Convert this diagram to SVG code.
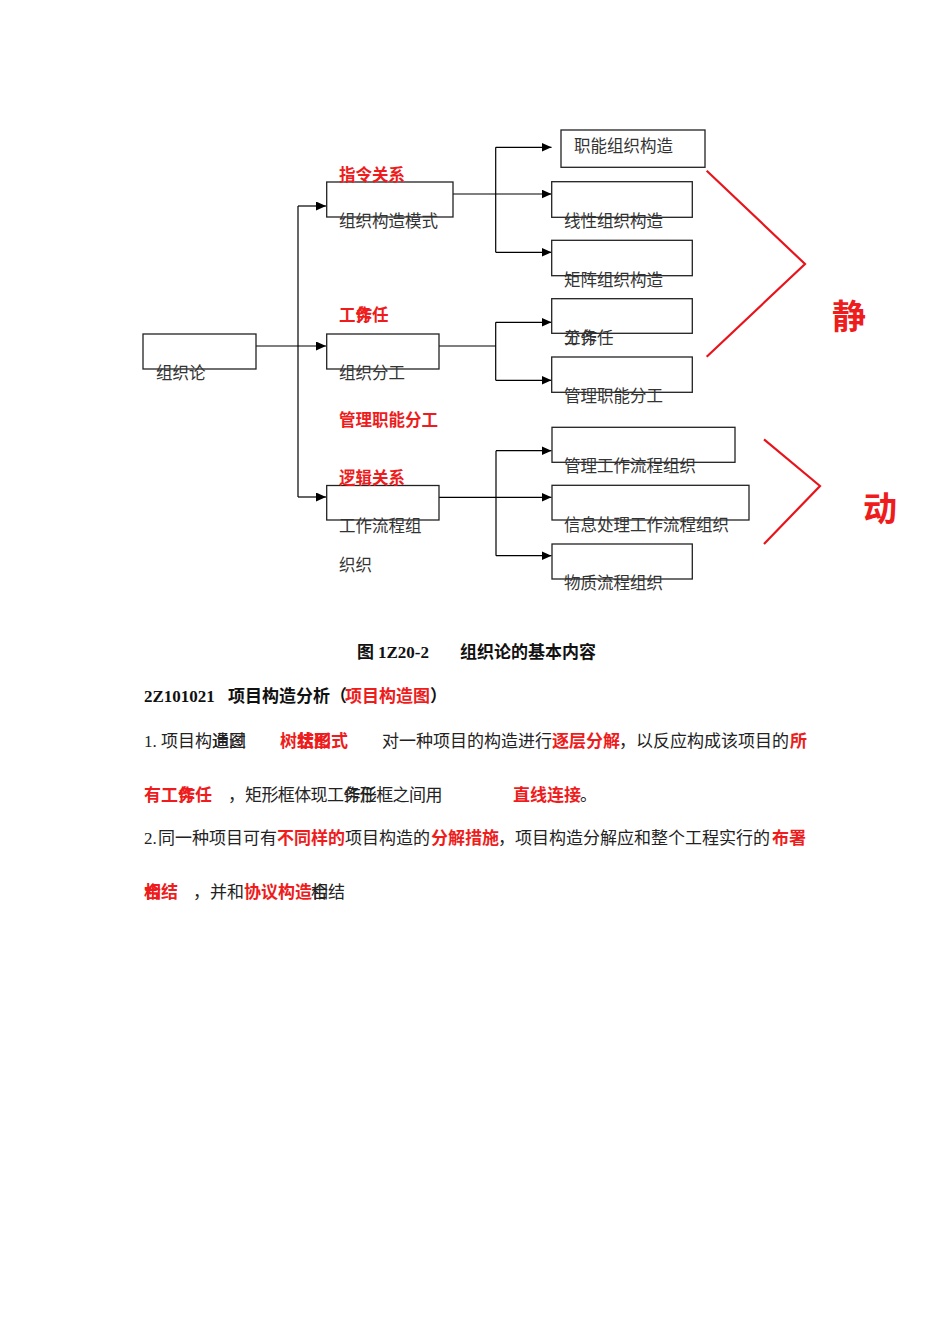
<svg xmlns="http://www.w3.org/2000/svg" width="950" height="1344" viewBox="0 0 950 1344">
<defs>
<marker id="arr" markerUnits="userSpaceOnUse" markerWidth="11" markerHeight="9" refX="10" refY="4.5" orient="auto"><path d="M0,0 L10,4.5 L0,9 z" fill="#000"/></marker>
<style>
.box{fill:#fff;stroke:#222;stroke-width:1.3}
.ln{fill:none;stroke:#000;stroke-width:1.2}
.ar{fill:none;stroke:#000;stroke-width:1.2;marker-end:url(#arr)}
.chev{fill:none;stroke:#e8141b;stroke-width:2.2}
.t{font-family:"Noto Sans CJK SC","Liberation Serif",sans-serif;font-size:16.5px;fill:#333}
.r{font-family:"Noto Sans CJK SC",sans-serif;font-size:16.5px;font-weight:bold;fill:#ee1c1c}
.big{font-family:"Noto Sans CJK SC",sans-serif;font-size:34px;font-weight:bold;fill:#ee1c1c;text-anchor:middle}
.b{font-family:"Noto Sans CJK SC",sans-serif;font-size:17px;fill:#222}
.br{font-family:"Noto Sans CJK SC",sans-serif;font-size:17px;font-weight:bold;fill:#ee1c1c}
.bb{font-family:"Noto Sans CJK SC",sans-serif;font-size:17px;font-weight:bold;fill:#111}
.lat{font-family:"Liberation Serif","Noto Sans CJK SC",serif;font-size:17px;fill:#222}
.latb{font-family:"Liberation Serif","Noto Sans CJK SC",serif;font-size:17px;font-weight:bold;fill:#111}
</style>
</defs>
<rect width="950" height="1344" fill="#fff"/>

<g id="connectors">
<line class="ar" x1="256" y1="346" x2="326" y2="346"/>
<line class="ln" x1="298" y1="206" x2="298" y2="497"/>
<line class="ar" x1="298" y1="206" x2="326" y2="206"/>
<line class="ar" x1="298" y1="497" x2="326" y2="497"/>
<line class="ar" x1="453" y1="194" x2="551.5" y2="194"/>
<line class="ln" x1="495.7" y1="147.3" x2="495.7" y2="252.3"/>
<line class="ar" x1="495.7" y1="147.3" x2="551.5" y2="147.3"/>
<line class="ar" x1="495.7" y1="252.3" x2="551.5" y2="252.3"/>
<line class="ln" x1="439" y1="346" x2="495.7" y2="346"/>
<line class="ln" x1="495.7" y1="322.3" x2="495.7" y2="380.3"/>
<line class="ar" x1="495.7" y1="322.3" x2="551.5" y2="322.3"/>
<line class="ar" x1="495.7" y1="380.3" x2="551.5" y2="380.3"/>
<line class="ar" x1="439" y1="497.3" x2="551.5" y2="497.3"/>
<line class="ln" x1="496" y1="450.7" x2="496" y2="555.7"/>
<line class="ar" x1="496" y1="450.7" x2="551.5" y2="450.7"/>
<line class="ar" x1="496" y1="555.7" x2="551.5" y2="555.7"/>
<polyline class="chev" points="706.7,170.7 805,264 706.7,356.7"/>
<polyline class="chev" points="764,439.3 820,486 764,544"/>
</g>

<g id="n-zuzhilun"><rect class="box" x="143" y="334" width="113" height="35"/><text class="t" x="156" y="379">组织论</text></g>
<g id="n-moshi"><rect class="box" x="326.7" y="182" width="126.3" height="35"/><text class="r" x="339" y="181">指令关系</text><text class="t" x="339" y="227">组织构造模式</text></g>
<g id="n-fengong"><rect class="box" x="326.7" y="334" width="112.3" height="35"/><text class="r" x="339 355.5 355.5 372" y="321">工作务任</text><text class="t" x="339" y="379">组织分工</text><text class="r" x="339" y="426">管理职能分工</text></g>
<g id="n-liucheng"><rect class="box" x="326.7" y="485.5" width="112.3" height="34.5"/><text class="r" x="339" y="484">逻辑关系</text><text class="t" x="339" y="532">工作流程组</text><text class="t" x="339" y="571">织织</text></g>

<g id="n-zhineng"><rect class="box" x="561" y="130" width="144" height="37.3"/><text class="t" x="574" y="152">职能组织构造</text></g>
<g id="n-xianxing"><rect class="box" x="551.7" y="181.7" width="140.6" height="35.6"/><text class="t" x="564" y="227">线性组织构造</text></g>
<g id="n-juzhen"><rect class="box" x="551.7" y="240.3" width="140.6" height="35.4"/><text class="t" x="564" y="286">矩阵组织构造</text></g>
<g id="n-renwu"><rect class="box" x="551.7" y="298.7" width="140.6" height="34.6"/><text class="t" x="564 564 580.5 580.5 597" y="344">分工作务任</text></g>
<g id="n-guanlizhineng"><rect class="box" x="551.7" y="357" width="140.6" height="35.3"/><text class="t" x="564" y="402">管理职能分工</text></g>
<g id="n-guanliliucheng"><rect class="box" x="552" y="427.3" width="183" height="35"/><text class="t" x="564" y="472">管理工作流程组织</text></g>
<g id="n-xinxi"><rect class="box" x="552" y="485.3" width="197" height="34.7"/><text class="t" x="564" y="531">信息处理工作流程组织</text></g>
<g id="n-wuzhi"><rect class="box" x="552" y="544" width="140.3" height="35"/><text class="t" x="564" y="589">物质流程组织</text></g>

<g id="n-jing"><text class="big" x="849" y="329">静</text></g>
<g id="n-dong"><text class="big" x="880" y="521">动</text></g>

<g id="caption">
<text class="bb" x="357" y="658">图</text><text class="latb" x="378" y="658">1Z20-2</text>
<text class="bb" x="460" y="658">组织论的基本内容</text>
</g>
<g id="body">
<text class="latb" x="144" y="702">2Z101021</text>
<text class="bb" x="228" y="702">项目构造分析（</text>
<text class="br" x="345" y="702">项目构造图</text>
<text class="bb" x="430" y="702">）</text>

<text class="lat" x="144" y="747">1.</text>
<text class="b" x="161 178 195 212 212 229 229" y="747">项目构造通图过</text>
<text class="br" x="280 297 297 314 314 331" y="747">树状结图形式</text>
<text class="b" x="382" y="747">对一种项目的构造进行</text>
<text class="br" x="552" y="747">逐层分解</text>
<text class="b" x="619" y="747">，以反应构成该项目的</text>
<text class="br" x="790" y="747">所</text>

<text class="br" x="144 161 178 178 195" y="801">有工作务任</text>
<text class="b" x="228 245 261.4 277.8 294.2 310.6 327 343.4 343.4 359.8 359.8 376.2 392.6 409 425.4" y="801">，矩形框体现工作务任形框之间用</text>
<text class="br" x="513" y="801">直线连接</text>
<text class="b" x="580" y="801">。</text>

<text class="lat" x="144" y="844">2.</text>
<text class="b" x="158" y="844">同一种项目可有</text>
<text class="br" x="277" y="844">不同样的</text>
<text class="b" x="345" y="844">项目构造的</text>
<text class="br" x="431" y="844">分解措施</text>
<text class="b" x="498" y="844">，项目构造分解应和整个工程实行的</text>
<text class="br" x="772" y="844">布署</text>

<text class="br" x="144 144 161" y="898">相合结</text>
<text class="b" x="193" y="898">，并和</text>
<text class="br" x="244" y="898">协议构造</text>
<text class="b" x="311 311 328" y="898">相合结</text>
</g>
</svg>
